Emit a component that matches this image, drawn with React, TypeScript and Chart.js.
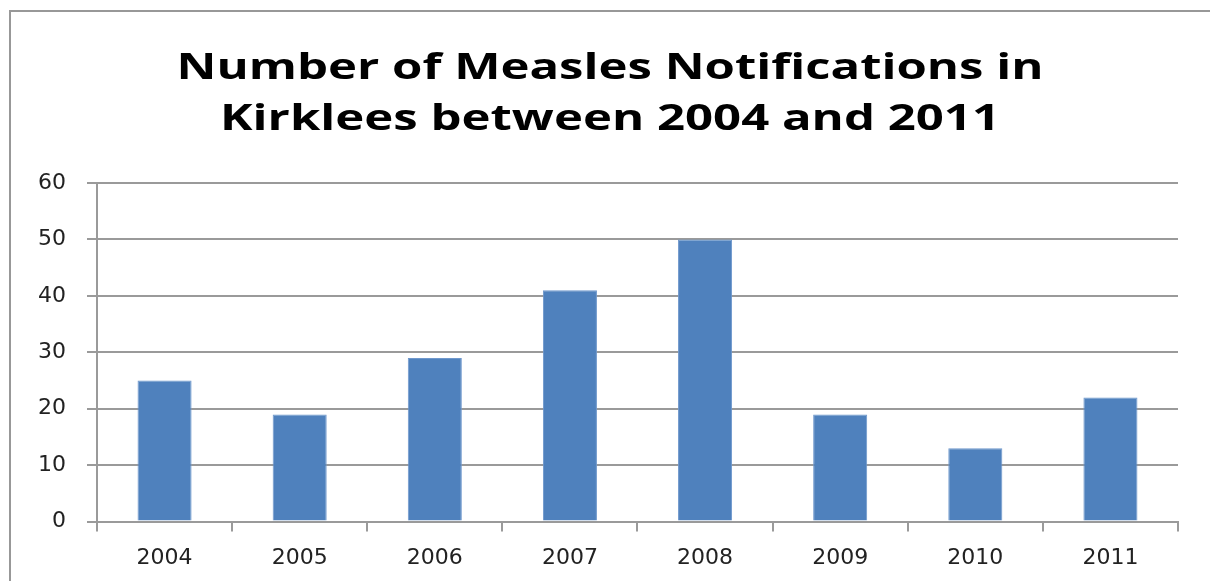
import React, { useEffect, useRef } from "react";
import { Chart, registerables } from "chart.js";

Chart.register(...registerables);

const titleLines = ["Number of Measles Notifications in", "Kirklees between 2004 and 2011"];
const categories = ["2004", "2005", "2006", "2007", "2008", "2009", "2010", "2011"];
const notifications = [25, 19, 29, 41, 50, 19, 13, 22];
const yMin = 0;
const yMax = 60;
const yStep = 10;

// Draws the two-line title slightly widened horizontally, like the original picture.
const stretchedTitle = {
  id: "stretchedTitle",
  afterDraw(chart: any) {
    const ctx = chart.ctx as CanvasRenderingContext2D;
    ctx.save();
    ctx.font = "bold 35px 'Open Sans'";
    ctx.fillStyle = "#000000";
    ctx.textAlign = "center";
    ctx.textBaseline = "alphabetic";
    const targetWidth = 867;
    const w = ctx.measureText(titleLines[0]).width;
    const sx = targetWidth / w;
    const cx = 610;
    const baselines = [79, 130];
    titleLines.forEach((line, i) => {
      ctx.save();
      ctx.translate(cx, baselines[i]);
      ctx.scale(sx, 1);
      ctx.fillText(line, 0, 0);
      ctx.restore();
    });
    ctx.restore();
  },
};

export default function App() {
  const ref = useRef<HTMLCanvasElement | null>(null);

  useEffect(() => {
    if (!ref.current) return;
    const chart = new Chart(ref.current, {
      type: "bar",
      data: {
        labels: categories,
        datasets: [
          {
            label: "Notifications",
            data: notifications,
            backgroundColor: "#4F81BD",
            borderColor: "#6E97CC",
            borderWidth: 1,
            categoryPercentage: 1,
            barPercentage: 0.4,
          },
        ],
      },
      options: {
        animation: false,
        responsive: false,
        maintainAspectRatio: false,
        layout: { padding: { left: 17, right: 32, top: 183, bottom: -3 } },
        plugins: {
          legend: { display: false },
          tooltip: { enabled: false },
          title: { display: false },
        },
        scales: {
          x: {
            grid: {
              display: true,
              drawOnChartArea: false,
              drawTicks: true,
              tickLength: 10,
              color: "#9A9A9A",
              lineWidth: 2,
              offset: true,
            },
            border: { display: true, color: "#9A9A9A", width: 2 },
            ticks: {
              color: "#222222",
              font: { family: "DejaVu Sans", size: 22 },
              padding: 13,
            },
          },
          y: {
            min: yMin,
            max: yMax,
            ticks: {
              stepSize: yStep,
              color: "#222222",
              font: { family: "DejaVu Sans", size: 22 },
              padding: 21,
            },
            grid: {
              color: "#9A9A9A",
              lineWidth: 2,
              tickLength: 10,
            },
            border: { display: true, color: "#9A9A9A", width: 2 },
          },
        },
      },
      plugins: [stretchedTitle],
    });
    return () => chart.destroy();
  }, []);

  return (
    <div style={{ position: "fixed", left: 0, top: 0, width: 1210, height: 581, background: "#fff", overflow: "hidden" }}>
      <div
        style={{
          position: "absolute",
          left: 9,
          top: 10,
          width: 1400,
          height: 800,
          borderLeft: "2px solid #989898",
          borderTop: "2px solid #989898",
        }}
      />
      <canvas ref={ref} width={1210} height={581} style={{ position: "absolute", left: 0, top: 0 }} />
    </div>
  );
}
